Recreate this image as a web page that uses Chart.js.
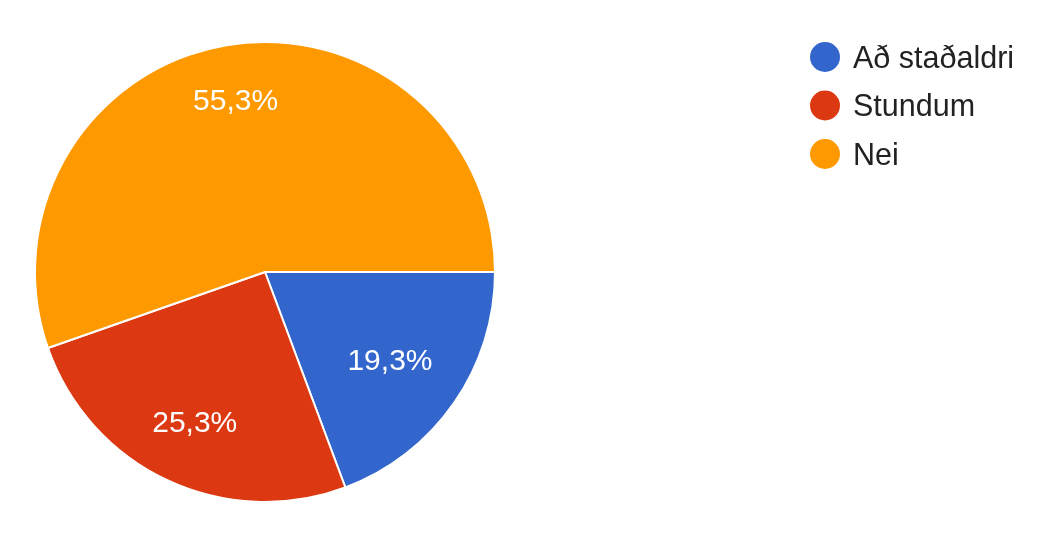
<!DOCTYPE html>
<html>
<head>
<meta charset="utf-8">
<script src="https://cdn.jsdelivr.net/npm/chart.js@4/dist/chart.umd.min.js"></script>
<style>
  html, body { margin: 0; padding: 0; background: #fff; }
  #wrap { width: 1051px; height: 542px; position: relative; }
</style>
</head>
<body>
<div id="wrap"><canvas id="pie"></canvas></div>
<script>
// answer categories + share of responses (%)
const labels  = ['Að staðaldri', 'Stundum', 'Nei'];
const shares  = [19.3, 25.3, 55.3];
const colours = ['#3366cc', '#dc3912', '#ff9900'];

const FONT = '"Liberation Sans", Arial, sans-serif';

// white percentage text inside each slice; outer edge of the text box
// kept at a fixed fraction of the radius (like google charts does)
const sliceLabels = {
    id: 'sliceLabels',
    afterDatasetsDraw(chart) {
        const ctx = chart.ctx;
        const meta = chart.getDatasetMeta(0);
        const size = 30;
        const capH = size * 0.716;
        ctx.save();
        ctx.font = size + 'px ' + FONT;
        ctx.fillStyle = '#ffffff';
        ctx.textAlign = 'center';
        ctx.textBaseline = 'alphabetic';
        meta.data.forEach((arc, i) => {
            const p = arc.getProps(['x', 'y', 'startAngle', 'endAngle', 'outerRadius'], true);
            const txt = shares[i].toFixed(1).replace('.', ',') + '%';
            const w = ctx.measureText(txt).width;
            const mid = (p.startAngle + p.endAngle) / 2;
            const c = Math.cos(mid), s = Math.sin(mid);
            const r = p.outerRadius * 0.84 - (Math.abs(c) * w / 2 + Math.abs(s) * capH / 2);
            const x = p.x + c * r;
            const y = p.y + s * r;
            ctx.fillText(txt, x, y + capH / 2);
        });
        ctx.restore();
    }
};

// legend drawn on the right, google forms style
const sideLegend = {
    id: 'sideLegend',
    afterDraw(chart) {
        const ctx = chart.ctx;
        const size = 30.5;
        const capH = size * 0.716;
        ctx.save();
        ctx.font = size + 'px ' + FONT;
        ctx.textBaseline = 'alphabetic';
        ctx.textAlign = 'left';
        labels.forEach((lab, i) => {
            const cy = 57 + i * 48.5;
            ctx.beginPath();
            ctx.arc(825, cy, 15, 0, Math.PI * 2);
            ctx.fillStyle = colours[i];
            ctx.fill();
            ctx.fillStyle = '#222222';
            ctx.fillText(lab, 853, cy + capH / 2);
        });
        ctx.restore();
    }
};

new Chart(document.getElementById('pie'), {
    type: 'pie',
    data: {
        labels,
        datasets: [{
            data: shares,
            backgroundColor: colours,
            borderColor: '#ffffff',
            borderWidth: 2,
            hoverOffset: 0
        }]
    },
    options: {
        responsive: true,
        maintainAspectRatio: false,
        animation: false,
        rotation: 90,
        layout: { padding: { left: 34, right: 555, top: 41, bottom: 39 } },
        plugins: {
            legend: { display: false },
            tooltip: { enabled: false }
        }
    },
    plugins: [sliceLabels, sideLegend]
});
</script>
</body>
</html>
